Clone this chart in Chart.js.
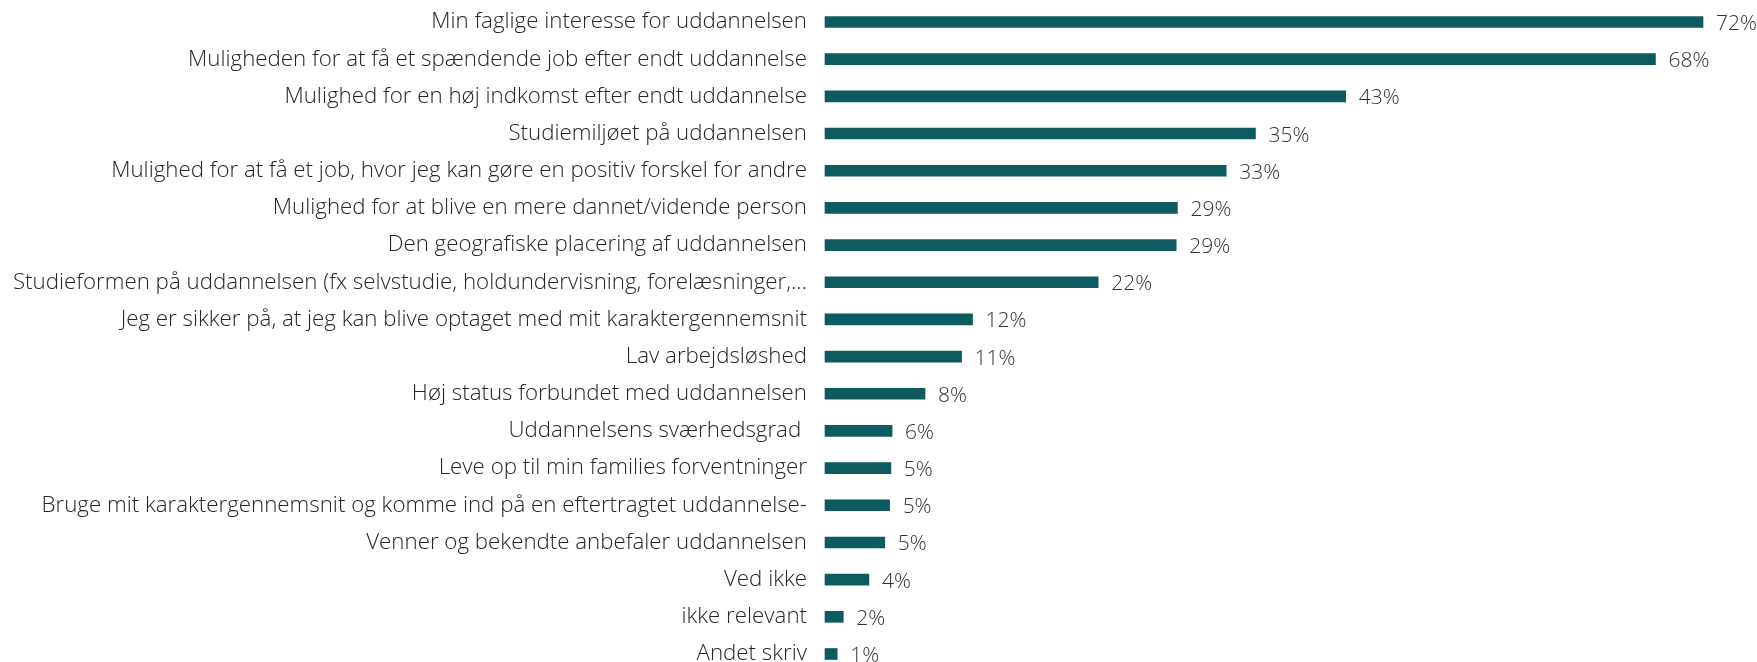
<!DOCTYPE html>
<html>
<head>
<meta charset="utf-8">
<script src="https://cdn.jsdelivr.net/npm/chart.js@4/dist/chart.umd.min.js"></script>
<style>
  html, body { margin: 0; padding: 0; background: #ffffff; }
  #wrap { width: 1757px; height: 662px; position: relative; }
</style>
</head>
<body>
<div id="wrap"><canvas id="c"></canvas></div>
<script>
const categories = [
  "Min faglige interesse for uddannelsen",
  "Muligheden for at få et spændende job efter endt uddannelse",
  "Mulighed for en høj indkomst efter endt uddannelse",
  "Studiemiljøet på uddannelsen",
  "Mulighed for at få et job, hvor jeg kan gøre en positiv forskel for andre",
  "Mulighed for at blive en mere dannet/vidende person",
  "Den geografiske placering af uddannelsen",
  "Studieformen på uddannelsen (fx selvstudie, holdundervisning, forelæsninger,...",
  "Jeg er sikker på, at jeg kan blive optaget med mit karaktergennemsnit",
  "Lav arbejdsløshed",
  "Høj status forbundet med uddannelsen",
  "Uddannelsens sværhedsgrad ",
  "Leve op til min families forventninger",
  "Bruge mit karaktergennemsnit og komme ind på en eftertragtet uddannelse-",
  "Venner og bekendte anbefaler uddannelsen",
  "Ved ikke",
  "ikke relevant",
  "Andet skriv"
];
const values = [72, 68.1, 42.7, 35.3, 32.9, 28.9, 28.8, 22.4, 12.1, 11.2, 8.2, 5.5, 5.4, 5.3, 4.9, 3.6, 1.5, 1.0];
const valueLabels = ["72%", "68%", "43%", "35%", "33%", "29%", "29%", "22%", "12%", "11%", "8%", "6%", "5%", "5%", "5%", "4%", "2%", "1%"];

const valueLabelPlugin = {
  id: 'valueLabels',
  afterDatasetsDraw(chart) {
    const ctx = chart.ctx;
    const meta = chart.getDatasetMeta(0);
    ctx.save();
    ctx.font = '300 21px "Open Sans", Lato, sans-serif';
    ctx.fillStyle = '#333333';
    ctx.textAlign = 'left';
    ctx.textBaseline = 'middle';
    meta.data.forEach((bar, i) => {
      ctx.fillText(valueLabels[i], bar.x + 13, bar.y + 2);
    });
    ctx.restore();
  }
};

new Chart(document.getElementById('c'), {
  type: 'bar',
  data: {
    labels: categories,
    datasets: [{
      data: values,
      backgroundColor: '#0d5b5e',
      borderWidth: 0,
      barThickness: 11,
      clip: false
    }]
  },
  options: {
    indexAxis: 'y',
    responsive: true,
    maintainAspectRatio: false,
    animation: false,
    layout: { padding: { top: 22, bottom: 8, left: 0, right: 54 } },
    plugins: {
      legend: { display: false },
      tooltip: { enabled: false }
    },
    scales: {
      x: {
        display: false,
        min: 0,
        max: 72
      },
      y: {
        offset: false,
        grid: { display: false },
        border: { display: false },
        ticks: {
          color: '#262626',
          padding: 10,
          autoSkip: false,
          font: { family: '"Open Sans", Lato, sans-serif', size: 22.3, weight: 300 }
        },
        afterFit(scale) {
          scale.width = 825;
          scale.paddingTop = 0;
          scale.paddingBottom = 0;
        }
      }
    }
  },
  plugins: [valueLabelPlugin]
});
</script>
</body>
</html>
